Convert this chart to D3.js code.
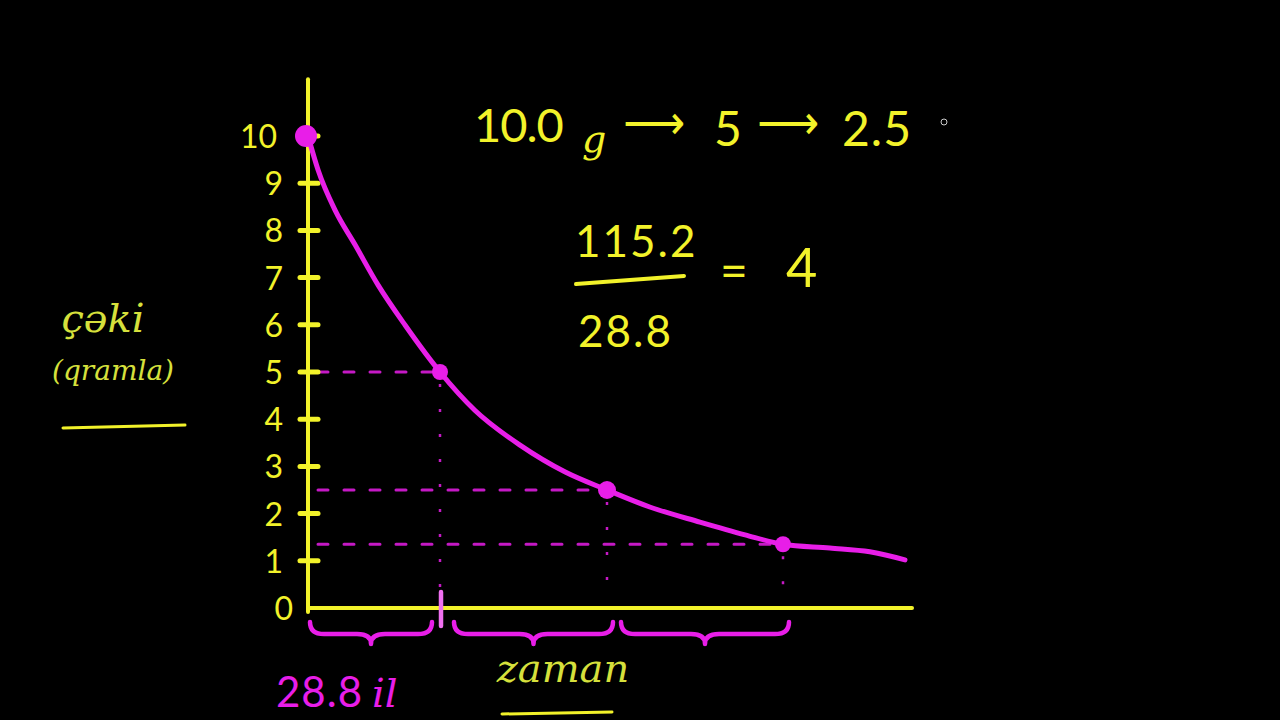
<!DOCTYPE html>
<html><head><meta charset="utf-8">
<script src="https://cdn.jsdelivr.net/npm/d3@7"></script>
<style>html,body{margin:0;padding:0;background:#000;overflow:hidden}</style>
</head><body>
<svg id="c" width="1280" height="720"></svg>
<script>
// ---- data ----
const yTickValues = [0, 1, 2, 3, 4, 5, 6, 7, 8, 9, 10];
const halfLifeTimes = [0, 28.8, 57.6, 86.4];          // years
const halfLifeMass = [10, 5, 2.5, 1.35];              // grams
const curveTime = [0, 2.2, 5.9, 10.3, 15.3, 21.2, 28.8, 34.8, 42.6, 50.4, 57.6, 64.6, 72.8, 80.2, 86.4, 97.2, 106.4, 114.5];
const curveMass = [10, 9.28, 8.43, 7.69, 6.84, 5.99, 5, 4.19, 3.45, 2.88, 2.5, 2.14, 1.82, 1.55, 1.35, 1.27, 1.19, 1.02];
const braceSpans = [[0, 28.8], [28.8, 57.6], [57.6, 86.4]];
const yAxisLabel = ["çəki", "(qramla)"];
const xAxisLabel = "zaman";
const halfLifeLabel = ["28.8", "il"];
const sequenceText = ["10.0", "g", "⟶", "5", "⟶", "2.5"];
const fractionTop = "115.2", fractionBottom = "28.8", fractionResult = "4";

// ---- styles ----
const YEL = "#f2f22a", MAG = "#e81ee8", OLIVE = "#d6e03c";
const hand = "Lato, 'Open Sans', sans-serif";
const script = "'DejaVu Serif', 'Liberation Serif', serif";
const svg = d3.select("#c");
svg.append("rect").attr("width", 1280).attr("height", 720).attr("fill", "#000");

// hand-drawn axis: spacing between half-life marks is irregular in the drawing
const x = d3.scaleLinear().domain([0, 28.8, 57.6, 86.4, 115.2]).range([308, 440, 607, 783, 908]);
const y = d3.scaleLinear().domain([0, 10]).range([608, 136]);

// dashed horizontal guides and dotted drops
const guides = svg.append("g");
halfLifeTimes.slice(1).forEach((t, i) => {
  const m = halfLifeMass[i + 1];
  guides.append("line").attr("x1", x(0) + 10).attr("x2", x(t) - 8)
    .attr("y1", y(m)).attr("y2", y(m))
    .attr("stroke", MAG).attr("stroke-width", 3).attr("stroke-dasharray", "10 16").attr("stroke-linecap", "round").attr("opacity", 0.85);
  guides.append("line").attr("x1", x(t)).attr("x2", x(t))
    .attr("y1", y(m) + 12).attr("y2", y(0) - 6)
    .attr("stroke", MAG).attr("stroke-width", 2.5).attr("stroke-dasharray", "3 22").attr("opacity", 0.85);
});

// axes
const axisG = svg.append("g");
axisG.append("line").attr("x1", x(0)).attr("x2", x(0)).attr("y1", y(11.2)).attr("y2", y(0) + 4)
  .attr("stroke", YEL).attr("stroke-width", 4).attr("stroke-linecap", "round");
axisG.append("line").attr("x1", x(0)).attr("x2", x(115.2) + 4).attr("y1", y(0)).attr("y2", y(0))
  .attr("stroke", YEL).attr("stroke-width", 4).attr("stroke-linecap", "round");
axisG.selectAll(".tk").data(yTickValues.filter(v => v > 0)).join("line")
  .attr("x1", x(0) - 8).attr("x2", x(0) + 10).attr("y1", d => y(d)).attr("y2", d => y(d))
  .attr("stroke", YEL).attr("stroke-width", 5).attr("stroke-linecap", "round");
axisG.selectAll(".tl").data(yTickValues).join("text")
  .attr("x", d => d === 0 ? 293 : (d === 10 ? 277 : 283)).attr("y", d => y(d) + 12)
  .attr("text-anchor", "end").attr("fill", YEL)
  .attr("font-family", hand).attr("font-weight", 400).attr("font-size", 32)
  .text(d => d);

// half-life mark on x axis
svg.append("line").attr("x1", x(28.8) + 1).attr("x2", x(28.8) + 1).attr("y1", y(0) - 16).attr("y2", y(0) + 18)
  .attr("stroke", "#f070f0").attr("stroke-width", 4.5).attr("stroke-linecap", "round");

// braces under axis
function bracePath(x1, x2, yTop, h) {
  const mid = (x1 + x2) / 2, yb = yTop + h * 0.55, tip = yTop + h;
  return `M${x1},${yTop} Q${x1},${yb} ${x1 + 14},${yb} L${mid - 14},${yb} Q${mid},${yb} ${mid},${tip} ` +
         `Q${mid},${yb} ${mid + 14},${yb} L${x2 - 14},${yb} Q${x2},${yb} ${x2},${yTop}`;
}
svg.append("g").selectAll("path").data(braceSpans).join("path")
  .attr("d", d => bracePath(x(d[0]) + (d[0] === 0 ? 2 : 14), x(d[1]) - (d[1] === 28.8 ? 8 : -6), y(0) + 14, 22))
  .attr("fill", "none").attr("stroke", MAG).attr("stroke-width", 4.5).attr("stroke-linecap", "round").attr("stroke-linejoin", "round");

// decay curve
const line = d3.line().x((d, i) => x(curveTime[i])).y((d, i) => y(curveMass[i])).curve(d3.curveMonotoneX);
svg.append("path").datum(curveMass).attr("d", line)
  .attr("fill", "none").attr("stroke", MAG).attr("stroke-width", 5).attr("stroke-linecap", "round");

// points
svg.append("g").selectAll("circle").data(halfLifeTimes).join("circle")
  .attr("cx", (d, i) => x(d) - (i === 0 ? 2 : 0)).attr("cy", (d, i) => y(halfLifeMass[i]))
  .attr("r", (d, i) => i === 0 ? 11 : (i === 2 ? 9 : 8)).attr("fill", MAG);

// axis titles
svg.append("text").attr("x", 103).attr("y", 332).attr("text-anchor", "middle").attr("fill", OLIVE)
  .attr("font-family", script).attr("font-style", "italic").attr("font-size", 40).text(yAxisLabel[0]);
svg.append("text").attr("x", 113).attr("y", 380).attr("text-anchor", "middle").attr("fill", OLIVE)
  .attr("font-family", script).attr("font-style", "italic").attr("font-size", 28).text(yAxisLabel[1]);
svg.append("line").attr("x1", 63).attr("x2", 185).attr("y1", 428).attr("y2", 425)
  .attr("stroke", YEL).attr("stroke-width", 3).attr("stroke-linecap", "round");

svg.append("text").attr("x", 563).attr("y", 682).attr("text-anchor", "middle").attr("fill", OLIVE)
  .attr("font-family", script).attr("font-style", "italic").attr("font-size", 40).text(xAxisLabel);
svg.append("line").attr("x1", 502).attr("x2", 612).attr("y1", 714).attr("y2", 712)
  .attr("stroke", YEL).attr("stroke-width", 3).attr("stroke-linecap", "round");

svg.append("text").attr("x", 276).attr("y", 707).attr("fill", MAG)
  .attr("font-family", hand).attr("font-weight", 400).attr("font-size", 42).attr("letter-spacing", 1).text(halfLifeLabel[0]);
svg.append("text").attr("x", 372).attr("y", 707).attr("fill", MAG)
  .attr("font-family", script).attr("font-style", "italic").attr("font-size", 40).text(halfLifeLabel[1]);

// top sequence
function put(t, xx, yy, size, color, extra) {
  const s = svg.append("text").attr("x", xx).attr("y", yy).attr("fill", color || YEL)
    .attr("font-family", hand).attr("font-weight", 400).attr("font-size", size).text(t);
  if (extra) extra(s);
  return s;
}
const arrowFont = s => s.attr("font-family", "'DejaVu Sans', sans-serif").attr("font-weight", 400).attr("textLength", 62).attr("lengthAdjust", "spacingAndGlyphs");
put(sequenceText[0], 474, 142, 47, YEL, s => s.attr("letter-spacing", -1));
put(sequenceText[1], 582, 152, 38, YEL, s => s.attr("font-family", script).attr("font-style", "italic"));
put(sequenceText[2], 623, 139, 48, YEL, arrowFont);
put(sequenceText[3], 714, 146, 48);
put(sequenceText[4], 757, 139, 48, YEL, arrowFont);
put(sequenceText[5], 842, 146, 48, YEL, s => s.attr("letter-spacing", 1));
svg.append("circle").attr("cx", 944).attr("cy", 122).attr("r", 3).attr("fill", "none").attr("stroke", "#ccc").attr("stroke-width", 1);

// fraction
put(fractionTop, 575, 257, 44, YEL, s => s.attr("letter-spacing", 2));
svg.append("line").attr("x1", 576).attr("x2", 684).attr("y1", 284).attr("y2", 276)
  .attr("stroke", YEL).attr("stroke-width", 4).attr("stroke-linecap", "round");
put(fractionBottom, 578, 347, 44, YEL, s => s.attr("letter-spacing", 2));
put("=", 720, 288, 48);
put(fractionResult, 786, 287, 54);
</script>
</body></html>
